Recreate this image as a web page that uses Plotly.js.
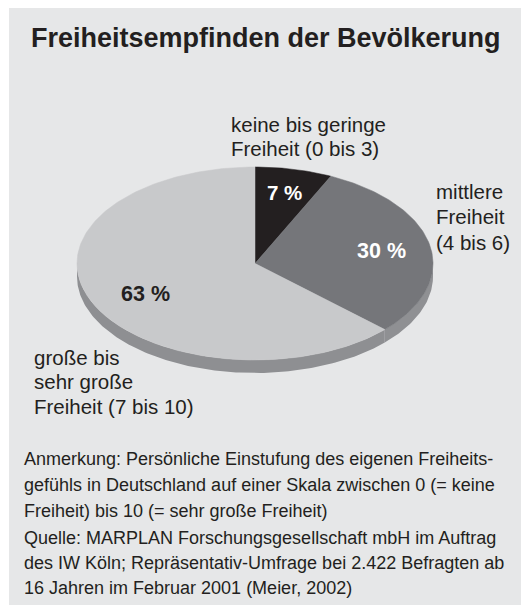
<!DOCTYPE html>
<html>
<head>
<meta charset="utf-8">
<script src="https://cdn.plot.ly/plotly-3.0.1.min.js"></script>
<style>html,body{margin:0;padding:0;background:#fff;}#chart{width:521px;height:608px;}</style>
</head>
<body>
<div id="chart"></div>
<script>
// ---- data ----
const categories = ["keine bis geringe Freiheit (0 bis 3)", "mittlere Freiheit (4 bis 6)", "große bis sehr große Freiheit (7 bis 10)"];
const values = [7, 30, 63];
const valueLabels = ["7 %", "30 %", "63 %"];
const categoryLabelLines = [
  ["keine bis geringe", "Freiheit (0 bis 3)"],
  ["mittlere", "Freiheit", "(4 bis 6)"],
  ["große bis", "sehr große", "Freiheit (7 bis 10)"]
];
const titleText = "Freiheitsempfinden der Bevölkerung";
const noteLines = [
  "Anmerkung: Persönliche Einstufung des eigenen Freiheits-",
  "gefühls in Deutschland auf einer Skala zwischen 0 (= keine",
  "Freiheit) bis 10 (= sehr große Freiheit)"
];
const sourceLines = [
  "Quelle: MARPLAN Forschungsgesellschaft mbH im Auftrag",
  "des IW Köln; Repräsentativ-Umfrage bei 2.422 Befragten ab",
  "16 Jahren im Februar 2001 (Meier, 2002)"
];

// ---- styling / geometry ----
const W = 521, H = 608;
const cx = 255, cy = 263.5, rx = 178, ry = 96.5, depth = 13;
const topColors = ["#231f20", "#75767a", "#c8c9cb"];
const sideColors = ["#3a3637", "#8f9093", "#8e8f92"];
const labelColors = ["#ffffff", "#ffffff", "#231f20"];
const labelR = [0.75, 0.72, 0.69];
const labelAngleShift = [0, 0.5, -4];
const FONT = "Liberation Sans, Arial, Helvetica, sans-serif";
const textColor = "#231f20";

function pt(thetaDeg, r, dy) {
  const t = thetaDeg * Math.PI / 180;
  return [cx + r * rx * Math.sin(t), cy - r * ry * Math.cos(t) + (dy || 0)];
}

const total = values.reduce((a, b) => a + b, 0);
const slices = [];
let acc = 0;
values.forEach((v, i) => {
  const a0 = acc / total * 360;
  acc += v;
  const a1 = acc / total * 360;
  slices.push([a0, a1]);
});

const traces = [];
// side walls (visible front half: 90..270 deg)
slices.forEach(([a0, a1], i) => {
  const s0 = Math.max(a0, 90), s1 = Math.min(a1, 270);
  if (s1 <= s0) return;
  const xs = [], ys = [];
  const n = Math.max(4, Math.ceil((s1 - s0) / 1));
  for (let k = 0; k <= n; k++) { const p = pt(s0 + (s1 - s0) * k / n, 1, 0); xs.push(p[0]); ys.push(p[1]); }
  for (let k = n; k >= 0; k--) { const p = pt(s0 + (s1 - s0) * k / n, 1, depth); xs.push(p[0]); ys.push(p[1]); }
  traces.push({type: "scatter", mode: "lines", x: xs, y: ys, fill: "toself", fillcolor: sideColors[i],
    line: {width: 0, color: sideColors[i]}, hoverinfo: "skip", showlegend: false});
});
// top faces
slices.forEach(([a0, a1], i) => {
  const xs = [cx], ys = [cy];
  const n = Math.max(4, Math.ceil((a1 - a0) / 1));
  for (let k = 0; k <= n; k++) { const p = pt(a0 + (a1 - a0) * k / n, 1, 0); xs.push(p[0]); ys.push(p[1]); }
  xs.push(cx); ys.push(cy);
  traces.push({type: "scatter", mode: "lines", x: xs, y: ys, fill: "toself", fillcolor: topColors[i],
    line: {width: 0.5, color: topColors[i]}, name: categories[i], text: valueLabels[i],
    hoverinfo: "name+text", showlegend: false});
});

const annotations = [];
// value labels
const valueFontSizes = [20.5, 21.5, 21.5];
slices.forEach(([a0, a1], i) => {
  const p = pt((a0 + a1) / 2 + labelAngleShift[i], labelR[i], 0);
  annotations.push({x: p[0], y: p[1], xref: "x", yref: "y", text: "<b>" + valueLabels[i] + "</b>",
    showarrow: false, font: {family: FONT, size: valueFontSizes[i], color: labelColors[i]}, xanchor: "center", yanchor: "middle"});
});
// category labels
const catPos = [
  {x: 229, y: 124, dy: 24},
  {x: 434, y: 191, dy: 25.5},
  {x: 32, y: 357, dy: 24.5}
];
categoryLabelLines.forEach((lines, i) => {
  lines.forEach((ln, j) => {
    annotations.push({x: catPos[i].x, y: catPos[i].y + j * catPos[i].dy, xref: "x", yref: "y", text: ln,
      showarrow: false, font: {family: FONT, size: 20.5, color: textColor}, xanchor: "left", yanchor: "middle"});
  });
});
// title
annotations.push({x: 266, y: 38, xref: "x", yref: "y", text: "<b>" + titleText + "</b>", showarrow: false,
  font: {family: FONT, size: 27, color: textColor}, xanchor: "center", yanchor: "middle"});
// notes
noteLines.forEach((ln, j) => {
  annotations.push({x: 22, y: 459 + j * 26, xref: "x", yref: "y", text: ln, showarrow: false,
    font: {family: FONT, size: 18, color: textColor}, xanchor: "left", yanchor: "middle"});
});
sourceLines.forEach((ln, j) => {
  annotations.push({x: 22, y: 538 + j * 25, xref: "x", yref: "y", text: ln, showarrow: false,
    font: {family: FONT, size: 18, color: textColor}, xanchor: "left", yanchor: "middle"});
});

const layout = {
  width: W, height: H,
  margin: {l: 0, r: 0, t: 0, b: 0, pad: 0},
  paper_bgcolor: "#ffffff", plot_bgcolor: "rgba(0,0,0,0)",
  xaxis: {range: [0, W], visible: false, fixedrange: true},
  yaxis: {range: [H, 0], visible: false, fixedrange: true},
  shapes: [{type: "rect", xref: "x", yref: "y", x0: 9, x1: W, y0: 8, y1: 605, fillcolor: "#e6e7e8", line: {width: 0}, layer: "below"}],
  annotations: annotations,
  showlegend: false
};

Plotly.newPlot("chart", traces, layout, {displayModeBar: false, staticPlot: true});
</script>
</body>
</html>
